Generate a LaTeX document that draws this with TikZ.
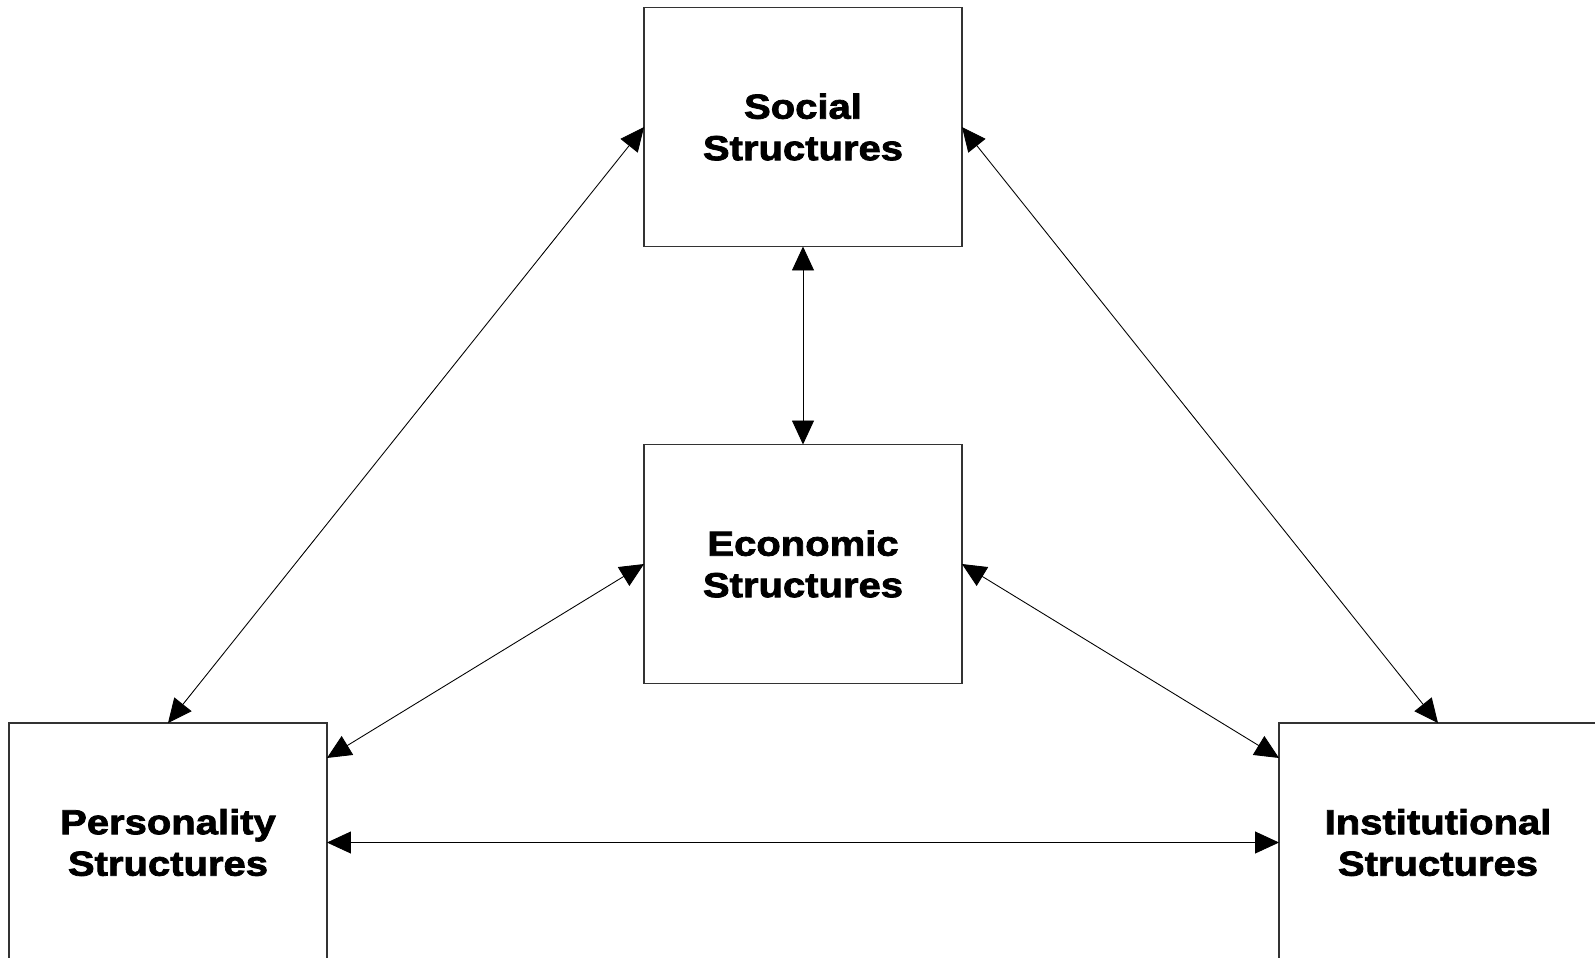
\documentclass[tikz,border=0pt]{standalone}
\usepackage{fontspec}
\newfontfamily\boxfont{Liberation Sans}[FakeStretch=1.15, BoldFeatures={FakeBold=2.2}]
\usetikzlibrary{arrows.meta}

\begin{document}
\begin{tikzpicture}[x=0.02cm, y=-0.02cm,
  every node/.style={draw=black!80, line width=0.7pt, minimum width=6.36cm, minimum height=4.78cm, outer sep=0pt, align=center, font=\boxfont\bfseries\fontsize{19.8}{23.6}\selectfont},
  link/.style={{Triangle[length=0.48cm, width=0.44cm]}-{Triangle[length=0.48cm, width=0.44cm]}, line width=0.5pt}]
\useasboundingbox[fill=white] (0,0) rectangle (1595,957);

\node (social) at (803,127) {Social\\Structures};
\node (econ) at (803,564) {Economic\\Structures};
\node (pers) at (168,842.5) {Personality\\Structures};
\node (inst) at (1438,842.5) {Institutional\\Structures};

\draw[link] (social.south) -- (econ.north);
\draw[link] (social.west) -- (pers.north);
\draw[link] (social.east) -- (inst.north);
\draw[link] (econ.west) -- (pers.28);
\draw[link] (econ.east) -- (inst.152);
\draw[link] (pers.east) -- (inst.west);
\end{tikzpicture}
\end{document}
